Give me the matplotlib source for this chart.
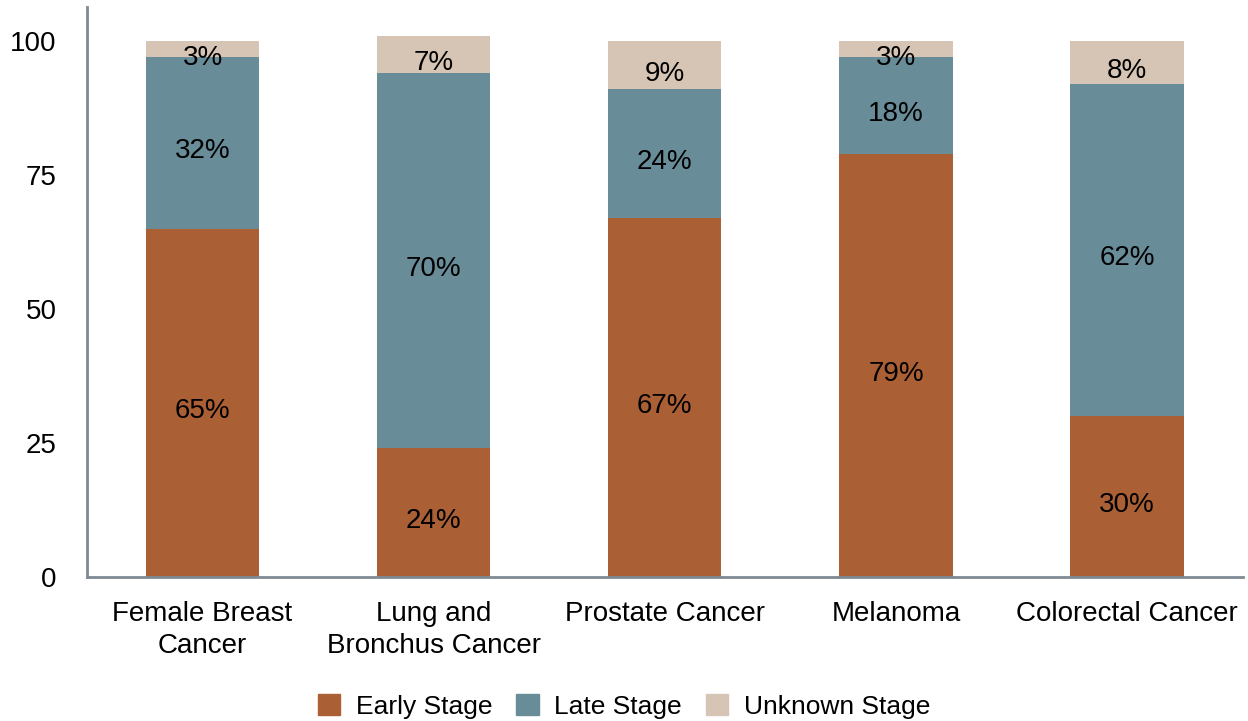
import numpy as np
import matplotlib.pyplot as plt
from matplotlib.patches import Patch

plt.rcParams['font.family'] = ['Liberation Sans', 'DejaVu Sans']

categories = ['Female Breast\nCancer', 'Lung and\nBronchus Cancer', 'Prostate Cancer',
              'Melanoma', 'Colorectal Cancer']
early = [65, 24, 67, 79, 30]
late = [32, 70, 24, 18, 62]
unknown = [3, 7, 9, 3, 8]

series = [('Early Stage', early, '#AA5F35'),
          ('Late Stage', late, '#688C98'),
          ('Unknown Stage', unknown, '#D6C5B4')]

fig = plt.figure(figsize=(12.48, 7.21), dpi=100)
ax = fig.add_axes([0.0697, 0.1997, 0.926, 0.790])

x = np.arange(len(categories))
bottom = np.zeros(len(categories))
for name, vals, color in series:
    vals = np.array(vals)
    ax.bar(x, vals, width=0.49, bottom=bottom, color=color, label=name)
    for xi, b, v in zip(x, bottom, vals):
        ax.annotate(f'{v}%', (xi, b + v / 2), xytext=(0, -6), textcoords='offset points',
                    ha='center', va='center', fontsize=20, color='black')
    bottom += vals

ax.set_xlim(-0.5, 4.5)
ax.set_ylim(0, 106.3)
ax.set_yticks([0, 25, 50, 75, 100])
ax.set_xticks(x)
ax.set_xticklabels(categories, linespacing=1.32)
ax.tick_params(axis='both', length=0, labelsize=20)
ax.tick_params(axis='y', pad=22)
ax.tick_params(axis='x', pad=17)

for s in ['top', 'right']:
    ax.spines[s].set_visible(False)
for s in ['left', 'bottom']:
    ax.spines[s].set_color('#7f8a94')
    ax.spines[s].set_linewidth(2)

handles = [Patch(color=c, label=n) for n, _, c in series]
fig.legend(handles=handles, loc='center', bbox_to_anchor=(0.5, 0.02), ncol=3,
           frameon=False, fontsize=19, handlelength=0.85, handleheight=0.85,
           handletextpad=0.6, columnspacing=0.9)

fig.savefig('out.png', dpi=100)
